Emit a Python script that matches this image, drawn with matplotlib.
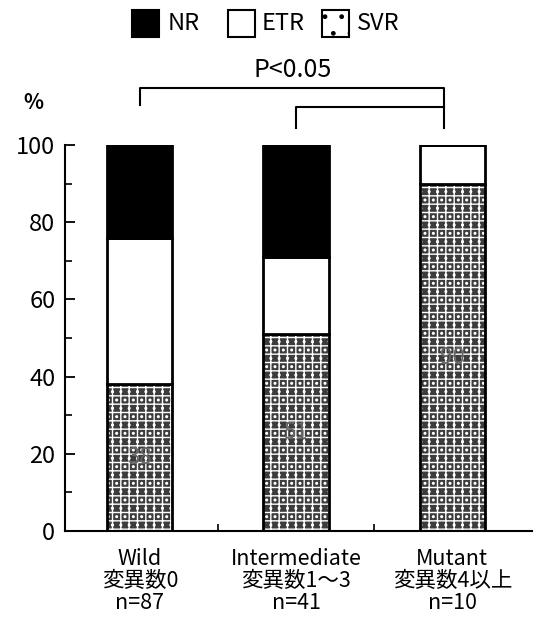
import matplotlib
matplotlib.use("Agg")
import matplotlib.pyplot as plt
from matplotlib.patches import Rectangle
from matplotlib.ticker import MultipleLocator

plt.rcParams['font.family'] = ['Noto Sans CJK JP', 'DejaVu Sans']

# data
groups = ["Wild\n変異数0\nn=87", "Intermediate\n変異数1～3\nn=41", "Mutant\n変異数4以上\nn=10"]
svr = [38, 51, 90]
etr = [38, 20, 10]
nr = [24, 29, 0]
inside_labels = ["38", "51", "90"]
legend_names = ["NR", "ETR", "SVR"]

svr_face = "#3c3c3c"

fig = plt.figure(figsize=(5.34, 6.17), dpi=100)
ax = fig.add_axes([65 / 534, 1 - 531 / 617, 467 / 534, 386 / 617])

x = list(range(len(groups)))
w = 0.417
bottom_etr = [s for s in svr]
bottom_nr = [s + e for s, e in zip(svr, etr)]

# SVR: speckled dark fill
ax.bar(x, svr, width=w, color=svr_face, edgecolor="white", hatch="++..", linewidth=0)
ax.bar(x, svr, width=w, fill=False, edgecolor="black", linewidth=2)
ax.bar(x, etr, width=w, bottom=bottom_etr, color="white", edgecolor="black", linewidth=2)
ax.bar(x, nr, width=w, bottom=bottom_nr, color="black", edgecolor="black", linewidth=2)

for xi, s, lab in zip(x, svr, inside_labels):
    ax.text(xi, s / 2, lab, ha="center", va="center", fontsize=16, color="#666666")

ax.set_xlim(-0.478, 2.51)
ax.set_ylim(0, 100)
ax.spines["top"].set_visible(False)
ax.spines["right"].set_visible(False)
ax.spines["left"].set_linewidth(1.5)
ax.spines["bottom"].set_linewidth(1.5)

ax.yaxis.set_major_locator(MultipleLocator(20))
ax.yaxis.set_minor_locator(MultipleLocator(10))
ax.tick_params(axis="y", which="major", direction="in", length=7, width=1.3, labelsize=17, pad=7)
ax.tick_params(axis="y", which="minor", direction="in", length=5, width=1.2)

ax.set_xticks(x)
ax.set_xticklabels(groups, fontsize=15.5, linespacing=1.0)
ax.tick_params(axis="x", which="major", length=0, pad=12)
ax.set_xticks([0.5, 1.5], minor=True)
ax.tick_params(axis="x", which="minor", direction="in", length=5, width=1.2)

ax.text(-0.683, 110.9, "%", fontsize=15, fontweight="bold",
        ha="center", va="center", clip_on=False)

# significance brackets
kw = dict(color="black", linewidth=1.5, clip_on=False)
ax.plot([0, 0, 1.95, 1.95], [110.4, 114.8, 114.8, 104.4], **kw)
ax.plot([1.0, 1.0, 1.95], [104.4, 109.8, 109.8], **kw)
ax.text(0.98, 119.5, "P<0.05", ha="center", va="center", fontsize=18, clip_on=False)

# legend
sq_w, sq_h = 27 / 534, 27 / 617
leg_sq = [132, 228, 322]
leg_txt = [168, 262, 357]
leg_face = ["black", "white", "white"]
for sx, tx, face, name in zip(leg_sq, leg_txt, leg_face, legend_names):
    r = Rectangle((sx / 534, 1 - 37 / 617), sq_w, sq_h, transform=fig.transFigure,
                  facecolor=face, edgecolor="black", linewidth=1.5,
                  hatch="." if name == "SVR" else None)
    fig.patches.append(r)
    fig.text(tx / 534, 1 - 24 / 617, name, ha="left", va="center", fontsize=17)

fig.savefig("out.png", dpi=100)
